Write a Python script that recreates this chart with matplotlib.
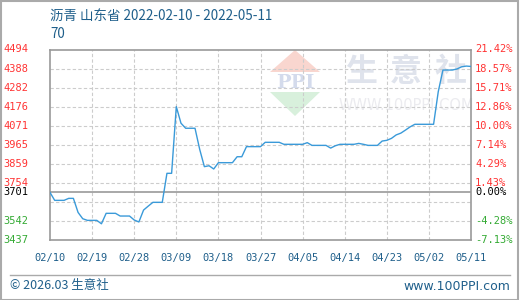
import matplotlib
matplotlib.use("Agg")
import matplotlib.pyplot as plt
import matplotlib.transforms as mtrans
from matplotlib.patches import Polygon, Rectangle
from matplotlib.lines import Line2D
import pandas as pd
import numpy as np

plt.rcParams['font.family'] = ['Noto Sans CJK SC', 'DejaVu Sans']

# ---------------- data ----------------
start_date = "2022-02-10"
end_date = "2022-05-11"
prices = [3701, 3657, 3657, 3657, 3668, 3668, 3590, 3555, 3546, 3546,
          3546, 3527, 3585, 3585, 3585, 3570, 3570, 3570, 3548, 3537,
          3603, 3625, 3646, 3646, 3646, 3807, 3807, 4177, 4085, 4057,
          4057, 4057, 3940, 3844, 3849, 3831, 3866, 3866, 3866, 3866,
          3899, 3899, 3955, 3955, 3955, 3955, 3979, 3979, 3979, 3979,
          3968, 3968, 3968, 3968, 3968, 3977, 3962, 3962, 3962, 3962,
          3947, 3960, 3968, 3968, 3968, 3968, 3973, 3968, 3962, 3962,
          3962, 3986, 3990, 4001, 4020, 4030, 4047, 4065, 4079, 4079,
          4079, 4079, 4079, 4260, 4380, 4380, 4380, 4386, 4398, 4402,
          4400]
left_labels = ["4494", "4388", "4282", "4176", "4071", "3965", "3859", "3754", "3701", "3542", "3437"]
left_values = [4494, 4388.3, 4282.6, 4176.9, 4071.2, 3965.5, 3859.8, 3754.1, 3701, 3542.7, 3437]
right_labels = ["21.42%", "18.57%", "15.71%", "12.86%", "10.00%", "7.14%", "4.29%", "1.43%", "0.00%", "-4.28%", "-7.13%"]
x_tick_labels = ["02/10", "02/19", "02/28", "03/09", "03/18", "03/27", "04/05", "04/14", "04/23", "05/02", "05/11"]
title_text = "沥青 山东省 2022-02-10 - 2022-05-11"
subtitle_text = "70"
footer_left = "© 2026.03 生意社"
footer_right = "www.100PPI.com"

dates = pd.date_range(start_date, end_date, freq="D")
base = prices[0]
ymin, ymax = 3437, 4494

W, H = 520, 300
fig = plt.figure(figsize=(W / 100, H / 100), dpi=100)
fig.patch.set_facecolor("white")

# outer frame
fig.add_artist(Rectangle((0.5 / W, 0.5 / H), 1 - 2.5 / W, 1 - 1.5 / H, transform=fig.transFigure,
                         fill=False, edgecolor="#aaaaaa", linewidth=1.5))

ax = fig.add_axes([50 / W, 1 - 240 / H, (471 - 50) / W, (240 - 49.5) / H])
ax.set_facecolor("white")

# watermark
wm = ax.transAxes
def fx(px):
    return (px - 50) / (471 - 50)
def fy(py):
    return (240 - py) / (240 - 49.5)

ax.add_patch(Polygon([(fx(270), fy(72)), (fx(320), fy(72)), (fx(295), fy(50))], closed=True,
                     transform=wm, facecolor="#f9d6cf", edgecolor="none", zorder=0))
ax.add_patch(Polygon([(fx(270), fy(92)), (fx(320), fy(92)), (fx(295), fy(116))], closed=True,
                     transform=wm, facecolor="#d8f0dc", edgecolor="none", zorder=0))
ax.text(fx(295), fy(83), "PPI", transform=wm, ha="center", va="center", fontsize=14,
        family="DejaVu Serif", fontweight="bold", color="#d4dbec", zorder=0)
for cx, ch in zip([361, 406, 451], "生意社"):
    ax.text(fx(cx), fy(72), ch, transform=wm, ha="center", va="center", fontsize=23,
            fontweight="bold", color="#dfe3ec", zorder=0)
ax.text(fx(406), fy(106), "WWW.100PPI.COM", transform=wm, ha="center", va="center",
        fontsize=10.5, family="DejaVu Sans", color="#ebebef", zorder=0)

# grid
grid_vals = np.linspace(ymin, ymax, 11)
for gv in grid_vals[1:-1]:
    ax.axhline(gv, color="#cccccc", linewidth=0.8, linestyle=(0, (3, 2)), zorder=1)
xticks = dates[::9]
for xt in xticks[1:-1]:
    ax.axvline(xt, color="#cccccc", linewidth=0.8, linestyle=(0, (3, 2)), zorder=1)
ax.axhline(base, color="#999999", linewidth=1.2, zorder=2)

ax.plot(dates, prices, color="#3a9ad9", linewidth=1.0, zorder=3)

ax.set_xlim(dates[0], dates[-1])
ax.set_ylim(ymin, ymax)
for s in ax.spines.values():
    s.set_color("#999999")
    s.set_linewidth(1.2)
ax.set_yticks([])
ax.set_xticks(xticks)
ax.set_xticklabels(x_tick_labels, family="DejaVu Sans Mono", fontsize=7.5, color="#1f5f8b")
ax.tick_params(axis="x", length=0, pad=9)

btr = mtrans.blended_transform_factory(fig.transFigure, ax.transData)
for lab, v in zip(left_labels, left_values):
    col = "#ff3333" if v > base + 1 else ("#000000" if abs(v - base) < 1 else "#33aa33")
    fig.text(28 / W, v, lab, ha="right", va="center", family="DejaVu Sans Mono", fontsize=7.5,
             color=col, transform=btr)
for lab, v in zip(right_labels, left_values):
    col = "#ff3333" if v > base + 1 else ("#000000" if abs(v - base) < 1 else "#33aa33")
    fig.text(475 / W, v, lab, ha="left", va="center", family="DejaVu Sans Mono", fontsize=7.5,
             color=col, transform=btr)

# titles
fig.text(50 / W, 1 - 17 / H, title_text, ha="left", va="center", fontsize=9.7, color="#1f5f8b")
fig.text(50 / W, 1 - 34 / H, subtitle_text, ha="left", va="center", fontsize=9.7, color="#1f5f8b")

# footer
fig.add_artist(Line2D([10 / W, 510 / W], [1 - 275 / H, 1 - 275 / H], transform=fig.transFigure,
                      color="#aaaaaa", linewidth=1.0))
fig.text(10 / W, 1 - 286 / H, footer_left, ha="left", va="center", fontsize=9, color="#1f5f8b")
fig.text(510 / W, 1 - 286 / H, footer_right, ha="right", va="center", fontsize=9,
         family="DejaVu Sans", color="#1f5f8b")

fig.savefig("out.png", dpi=100, facecolor="white")
